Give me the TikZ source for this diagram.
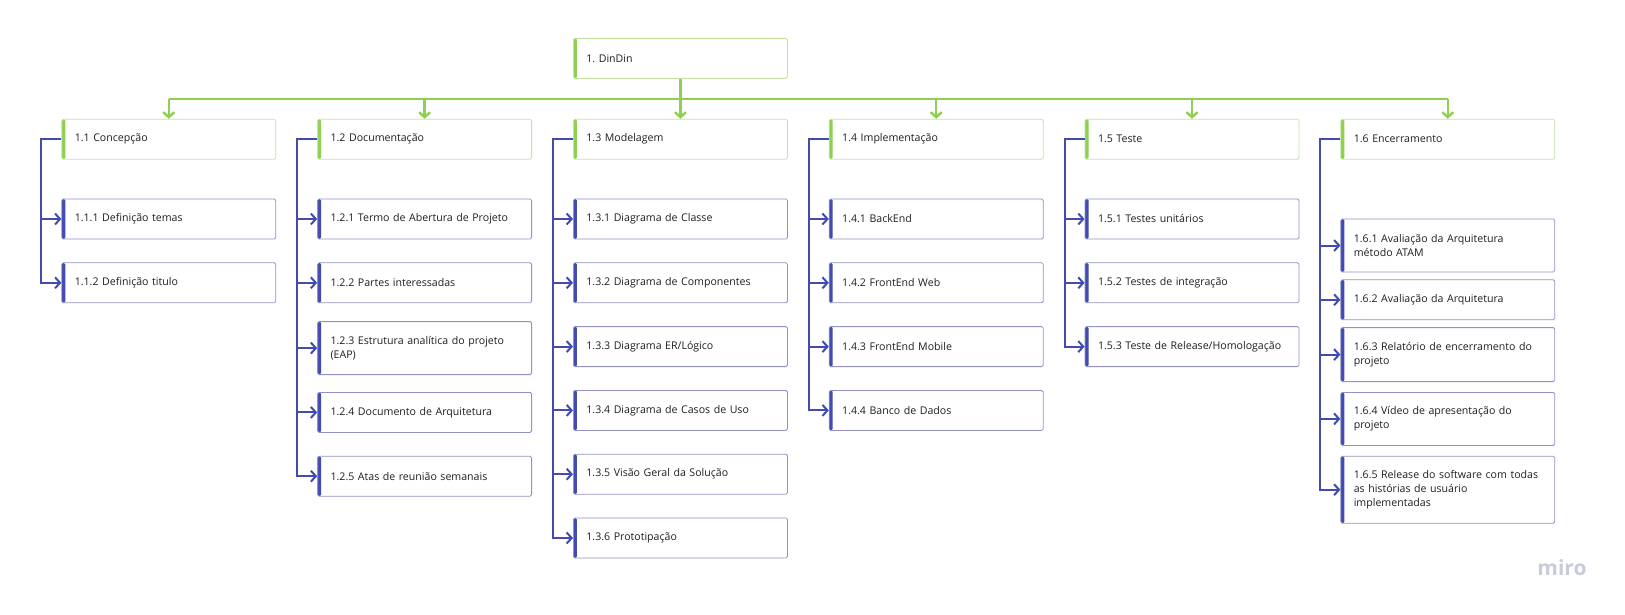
\documentclass[tikz,border=0pt]{standalone}
\usepackage{fontspec}
\setmainfont{Open Sans}
\usepackage{tikz}
\usetikzlibrary{positioning,arrows.meta}

\definecolor{mirogreen}{HTML}{8FD14F}
\definecolor{palegreen}{HTML}{C3E4A3}
\definecolor{miroblue}{HTML}{414BB2}
\definecolor{paleblue}{HTML}{9191C4}
\definecolor{inkgrey}{HTML}{1F1F1F}
\definecolor{markgrey}{HTML}{C9CADC}

\frenchspacing
\hyphenpenalty=10000
\exhyphenpenalty=10000

\begin{document}
\begin{tikzpicture}
    [x=1pt,y=-1pt,
     card/.style={rectangle,rounded corners=1.5pt,fill=white,line width=0.8pt,
       minimum width=214pt,minimum height=40pt,text width=188pt,inner xsep=13pt,
       align=left,text=inkgrey,font=\fontsize{10.6}{13.8}\selectfont},
     phase/.style={card,draw=palegreen,
       path picture={\fill[mirogreen] (path picture bounding box.south west)
         rectangle ([xshift=3.5pt]path picture bounding box.north west);}},
     task/.style={card,draw=paleblue,
       path picture={\fill[miroblue] (path picture bounding box.south west)
         rectangle ([xshift=3.5pt]path picture bounding box.north west);}},
     greenlink/.style={draw=mirogreen,line width=2.4pt},
     bluelink/.style={draw=miroblue,line width=2pt},
     tip/.style={-{Straight Barb[length=5pt,width=11pt]}}]

    \useasboundingbox (0,0) rectangle (1625,615);

    \node[phase] (dindin) [anchor=north west] at (573,38) {1. DinDin};

    \node[phase] (modelagem) [below=40pt of dindin] {1.3 Modelagem};
    \node[phase] (documentacao) [left=41pt of modelagem] {1.2 Documentação};
    \node[phase] (concepcao) [left=41pt of documentacao] {1.1 Concepção};
    \node[phase] (implementacao) [right=41pt of modelagem] {1.4 Implementação};
    \node[phase] (teste) [right=41pt of implementacao] {1.5 Teste};
    \node[phase] (encerramento) [right=41pt of teste] {1.6 Encerramento};

    \node[task] (temas) [below=39pt of concepcao] {1.1.1 Definição temas};
    \node[task] (titulo) [below=23pt of temas] {1.1.2 Definição titulo};

    \node[task] (termo) [below=39pt of documentacao] {1.2.1 Termo de Abertura de Projeto};
    \node[task] (partes) [below=23pt of termo] {1.2.2 Partes interessadas};
    \node[task] (eap) [below=18pt of partes,minimum height=53pt] {1.2.3 Estrutura analítica do projeto\\(EAP)};
    \node[task] (arquitetura) [below=17pt of eap] {1.2.4 Documento de Arquitetura};
    \node[task] (atas) [below=23pt of arquitetura] {1.2.5 Atas de reunião semanais};

    \node[task] (classe) [below=39pt of modelagem] {1.3.1 Diagrama de Classe};
    \node[task] (componentes) [below=23pt of classe] {1.3.2 Diagrama de Componentes};
    \node[task] (logico) [below=23pt of componentes] {1.3.3 Diagrama ER/Lógico};
    \node[task] (casos) [below=23pt of logico] {1.3.4 Diagrama de Casos de Uso};
    \node[task] (visao) [below=23pt of casos] {1.3.5 Visão Geral da Solução};
    \node[task] (prototipo) [below=23pt of visao] {1.3.6 Prototipação};

    \node[task] (backend) [below=39pt of implementacao] {1.4.1 BackEnd};
    \node[task] (web) [below=23pt of backend] {1.4.2 FrontEnd Web};
    \node[task] (mobile) [below=23pt of web] {1.4.3 FrontEnd Mobile};
    \node[task] (banco) [below=23pt of mobile] {1.4.4 Banco de Dados};

    \node[task] (unitarios) [below=39pt of teste] {1.5.1 Testes unitários};
    \node[task] (integracao) [below=23pt of unitarios] {1.5.2 Testes de integração};
    \node[task] (homologacao) [below=23pt of integracao] {1.5.3 Teste de Release/Homologação};

    \node[task] (atam) [below=59pt of encerramento,minimum height=53pt] {1.6.1 Avaliação da Arquitetura\\método ATAM};
    \node[task] (avaliacao) [below=7pt of atam] {1.6.2 Avaliação da Arquitetura};
    \node[task] (relatorio) [below=7pt of avaliacao,minimum height=54pt] {1.6.3 Relatório de encerramento do\\projeto};
    \node[task] (video) [below=10pt of relatorio,minimum height=53pt] {1.6.4 Vídeo de apresentação do\\projeto};
    \node[task] (software) [below=10pt of video,minimum height=67pt] {1.6.5 Release do software com todas\\as histórias de usuário\\implementadas};

    \coordinate (bus) at ([yshift=-20pt]dindin.south);
    \draw[greenlink] (dindin.south) -- (bus);
    \draw[greenlink] (bus -| concepcao.north) -- (bus -| encerramento.north);
    \draw[greenlink,tip] (bus -| concepcao.north) -- (concepcao.north);
    \draw[greenlink,tip] (bus -| documentacao.north) -- (documentacao.north);
    \draw[greenlink,tip] (bus) -- (modelagem.north);
    \draw[greenlink,tip] (bus -| implementacao.north) -- (implementacao.north);
    \draw[greenlink,tip] (bus -| teste.north) -- (teste.north);
    \draw[greenlink,tip] (bus -| encerramento.north) -- (encerramento.north);

    \draw[bluelink,tip] (concepcao.west) -- ++(-20,0) |- (temas.west);
    \draw[bluelink,tip] (concepcao.west) -- ++(-20,0) |- (titulo.west);

    \draw[bluelink,tip] (documentacao.west) -- ++(-20,0) |- (termo.west);
    \draw[bluelink,tip] (documentacao.west) -- ++(-20,0) |- (partes.west);
    \draw[bluelink,tip] (documentacao.west) -- ++(-20,0) |- (eap.west);
    \draw[bluelink,tip] (documentacao.west) -- ++(-20,0) |- (arquitetura.west);
    \draw[bluelink,tip] (documentacao.west) -- ++(-20,0) |- (atas.west);

    \draw[bluelink,tip] (modelagem.west) -- ++(-20,0) |- (classe.west);
    \draw[bluelink,tip] (modelagem.west) -- ++(-20,0) |- (componentes.west);
    \draw[bluelink,tip] (modelagem.west) -- ++(-20,0) |- (logico.west);
    \draw[bluelink,tip] (modelagem.west) -- ++(-20,0) |- (casos.west);
    \draw[bluelink,tip] (modelagem.west) -- ++(-20,0) |- (visao.west);
    \draw[bluelink,tip] (modelagem.west) -- ++(-20,0) |- (prototipo.west);

    \draw[bluelink,tip] (implementacao.west) -- ++(-20,0) |- (backend.west);
    \draw[bluelink,tip] (implementacao.west) -- ++(-20,0) |- (web.west);
    \draw[bluelink,tip] (implementacao.west) -- ++(-20,0) |- (mobile.west);
    \draw[bluelink,tip] (implementacao.west) -- ++(-20,0) |- (banco.west);

    \draw[bluelink,tip] (teste.west) -- ++(-20,0) |- (unitarios.west);
    \draw[bluelink,tip] (teste.west) -- ++(-20,0) |- (integracao.west);
    \draw[bluelink,tip] (teste.west) -- ++(-20,0) |- (homologacao.west);

    \draw[bluelink,tip] (encerramento.west) -- ++(-20,0) |- (atam.west);
    \draw[bluelink,tip] (encerramento.west) -- ++(-20,0) |- (avaliacao.west);
    \draw[bluelink,tip] (encerramento.west) -- ++(-20,0) |- (relatorio.west);
    \draw[bluelink,tip] (encerramento.west) -- ++(-20,0) |- (video.west);
    \draw[bluelink,tip] (encerramento.west) -- ++(-20,0) |- (software.west);

    \node (miro) [text=markgrey,font=\fontsize{21}{21}\bfseries\selectfont] at (1562,568) {miro};
\end{tikzpicture}
\end{document}
